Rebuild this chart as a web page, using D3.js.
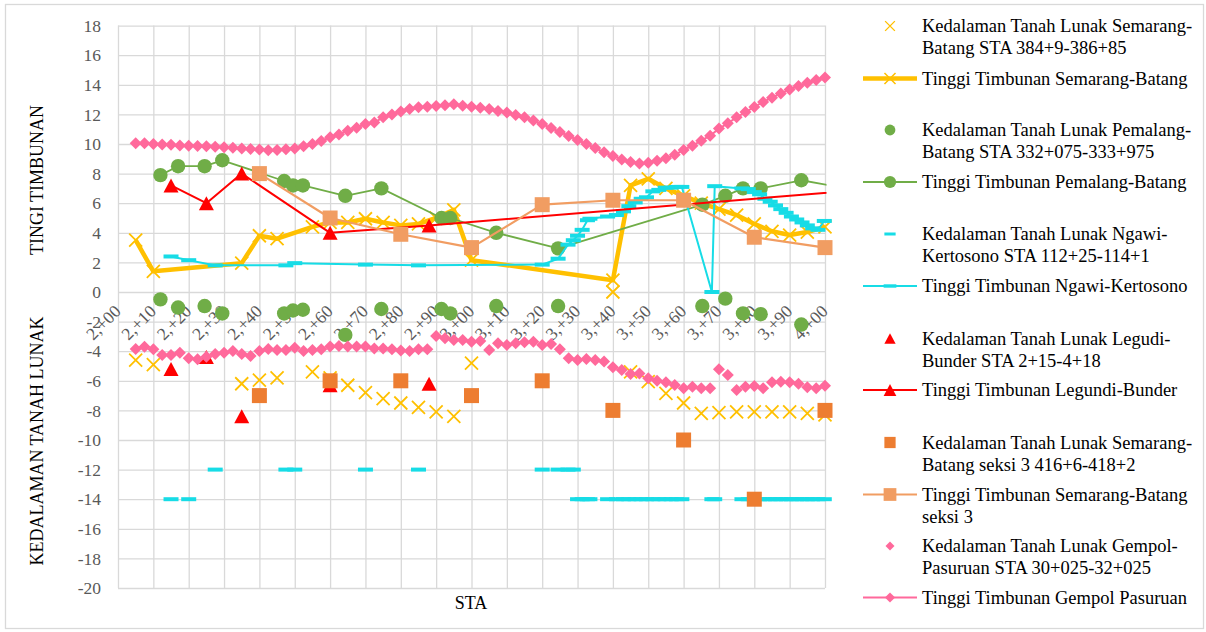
<!DOCTYPE html>
<html>
<head>
<meta charset="utf-8">
<script src="https://cdn.jsdelivr.net/npm/d3@7"></script>
<style>
  body { margin: 0; background: #fff; }
  svg { display: block; }
  text { font-family: "Liberation Serif", "Times New Roman", serif; }
</style>
</head>
<body>
<svg id="chart" width="1206" height="632" font-family="Liberation Serif, serif"></svg>
<script>
// ---- axis ticks ----
const tickStations = [200, 210, 220, 230, 240, 250, 260, 270, 280, 290, 300, 310, 320, 330, 340, 350, 360, 370, 380, 390, 400];
const tickLabels = ["2,+00", "2,+10", "2,+20", "2,+30", "2,+40", "2,+50", "2,+60", "2,+70", "2,+80", "2,+90",
                    "3,+00", "3,+10", "3,+20", "3,+30", "3,+40", "3,+50", "3,+60", "3,+70", "3,+80", "3,+90", "4,+00"];
const yTicks = [-20, -18, -16, -14, -12, -10, -8, -6, -4, -2, 0, 2, 4, 6, 8, 10, 12, 14, 16, 18];

// ---- Semarang-Batang STA 384+9-386+85 ----
const semarangSta = [205, 210, 235, 240, 245, 255, 260, 265, 270, 275, 280, 285, 290, 295, 300,
                     340, 345, 350, 355, 360, 365, 370, 375, 380, 385, 390, 395, 400];
const semarangTinggi = [3.5, 1.4, 1.95, 3.8, 3.6, 4.4, 4.7, 4.7, 4.95, 4.7, 4.5, 4.6, 5.0, 5.55, 2.15,
                        0.8, 7.2, 7.65, 7.0, 6.5, 6.0, 5.6, 5.2, 4.6, 4.1, 3.85, 4.05, 4.4];
const semarangKedalaman = [-4.6, -4.9, -6.2, -5.95, -5.8, -5.4, -5.8, -6.3, -6.8, -7.2, -7.5, -7.8, -8.1, -8.4, -4.8,
                           0, -5.4, -6.05, -6.85, -7.5, -8.2, -8.15, -8.1, -8.1, -8.1, -8.1, -8.2, -8.3];

// ---- Pemalang-Batang STA 332+075-333+975 ----
const pemalangSta = [212, 217, 224.5, 229.5, 247, 249.5, 252.3, 264.3, 274.5, 291.5, 294, 307, 324.5,
                     365.3, 371.8, 376.8, 381.8, 393.3, 406];
const pemalangTinggi = [7.9, 8.5, 8.5, 8.9, 7.5, 7.2, 7.2, 6.5, 7.0, 5.0, 5.0, 4.0, 2.95,
                        5.9, 6.5, 7.0, 7.0, 7.55, 7.0];
const pemalangKedalaman = [-0.5, -1.05, -0.95, -1.45, -1.45, -1.25, -1.2, -2.9, -1.15, -1.15, -1.45, -0.95, -0.95,
                           -0.95, -0.45, -1.45, -1.5, -2.2, null];

// ---- Ngawi-Kertosono STA 112+25-114+1 ----
const ngawiSta = [215, 220, 227.5, 247.5, 250, 270, 285, 320, 324.5, 327.3,
                  328.8, 330, 331.3, 332.8, 333.5, 338.5, 341, 343, 344.5, 346.3,
                  348, 349.5, 351.3, 353, 354.8, 356.5, 358, 359.5, 368, 368.8,
                  376.5, 378.3, 380, 381.5, 383, 384.5, 386, 387.5, 389, 390.5,
                  392, 393.5, 395, 396.5, 398, 399.8];
const ngawiTinggi = [2.4, 2.15, 1.8, 1.8, 1.95, 1.85, 1.8, 1.85, 2.25, 3.2,
                     3.5, 3.8, 4.2, 4.85, 4.95, 5.1, 5.2, 5.45, 5.8, 6.05,
                     6.3, 6.4, 6.8, 6.9, 7.05, 7.05, 7.1, 7.1, 0, 7.15,
                     7.0, 6.95, 6.75, 6.6, 6.3, 6.1, 5.85, 5.6, 5.35, 5.1,
                     4.9, 4.7, 4.5, 4.3, 4.2, 4.8];
const ngawiKedalaman = [-14, -14, -12, -12, -12, -12, -12, -12, -12, -12,
                        -12, -14, -14, -14, -14, -14, -14, -14, -14, -14,
                        -14, -14, -14, -14, -14, -14, -14, -14, -14, -14,
                        -14, -14, -14, -14, -14, -14, -14, -14, -14, -14,
                        -14, -14, -14, -14, -14, -14];

// ---- Legundi-Bunder STA 2+15-4+18 ----
const legundiSta = [215, 225, 235, 260, 288, 418];
const legundiTinggi = [7.2, 6.0, 8.0, 4.0, 4.5, 7.05];
const legundiKedalaman = [-5.2, -4.4, -8.4, -6.3, -6.2, null];

// ---- Semarang-Batang seksi 3 416+6-418+2 ----
const seksi3Sta = [240, 260, 280, 300, 320, 340, 360, 380, 400];
const seksi3Tinggi = [8.0, 5.0, 3.9, 3.0, 5.9, 6.2, 6.2, 3.7, 3.0];
const seksi3Kedalaman = [-7, -6, -6, -7, -6, -8, -10, -14, -8];

// ---- Gempol-Pasuruan STA 30+025-32+025 (every 2.5 m from 2+05 to 4+00) ----
const gempolSta = d3.range(205, 400.01, 2.5);
const gempolTinggi = [
  10.05, 10.05, 10.0, 9.97, 9.95, 9.9, 9.88, 9.86, 9.84, 9.82,
  9.78, 9.74, 9.7, 9.66, 9.62, 9.58, 9.6, 9.65, 9.7, 9.84,
  10.0, 10.2, 10.45, 10.65, 10.9, 11.1, 11.35, 11.45, 11.8, 12.0,
  12.2, 12.36, 12.48, 12.52, 12.57, 12.61, 12.68, 12.59, 12.52, 12.45,
  12.36, 12.23, 12.12, 11.96, 11.8, 11.58, 11.35, 11.08, 10.81, 10.54,
  10.27, 10.0, 9.73, 9.44, 9.19, 8.96, 8.78, 8.69, 8.74, 8.87,
  9.03, 9.28, 9.59, 9.89, 10.22, 10.56, 11.04, 11.4, 11.8, 12.16,
  12.5, 12.84, 13.13, 13.42, 13.69, 13.92, 14.14, 14.32, 14.5];
const gempolKedalaman = [
  -3.85, -3.7, -3.87, -4.26, -4.26, -4.1, -4.48, -4.55, -4.37, -4.19,
  -4.1, -3.99, -4.19, -4.32, -3.99, -3.85, -3.92, -3.92, -3.76, -3.99,
  -3.92, -3.87, -3.69, -3.65, -3.69, -3.69, -3.69, -3.81, -3.81, -3.87,
  -3.96, -3.99, -3.87, -3.87, -2.97, -3.13, -3.24, -3.24, -3.36, -3.31,
  -3.92, -3.47, -3.58, -3.47, -3.4, -3.36, -3.58, -3.51, -3.87, -4.48,
  -4.59, -4.53, -4.59, -4.7, -5.09, -5.27, -5.54, -5.5, -5.83, -6.0,
  -6.1, -6.28, -6.5, -6.4, -6.5, -6.5, -5.22, -5.6, -6.62, -6.4,
  -6.35, -6.5, -6.1, -6.06, -6.1, -6.2, -6.44, -6.5, -6.33];

// ---- layout ----
const FONT = "Liberation Serif, Times New Roman, serif";
const plot = { left: 118, right: 825, top: 25.6, bottom: 588 };
const svg = d3.select("#chart");

const x = d3.scaleLinear().domain([200, 400]).range([plot.left, plot.right]);
const y = d3.scaleLinear().domain([-20, 18]).range([plot.bottom, plot.top]);

// outer chart frame
svg.append("rect")
  .attr("x", 5.5).attr("y", 4.5).attr("width", 1198).attr("height", 624)
  .attr("fill", "#fff").attr("stroke", "#D9D9D9").attr("stroke-width", 1.3);

// horizontal gridlines + value labels
const gY = svg.append("g").attr("transform", `translate(${plot.left},0)`)
  .call(d3.axisLeft(y).tickValues(yTicks).tickSize(-(plot.right - plot.left)).tickPadding(17).tickFormat(d => d));
gY.attr("font-family", FONT);
gY.select(".domain").remove();
gY.selectAll("line").attr("stroke", "#D9D9D9").attr("stroke-width", 1.3);
gY.selectAll("text").attr("font-family", FONT).attr("font-size", 17.5).attr("fill", "#595959");

// vertical gridlines
const gX = svg.append("g").attr("transform", `translate(0,${plot.top})`)
  .call(d3.axisBottom(x).tickValues(tickStations).tickSize(plot.bottom - plot.top).tickFormat(""));
gX.select(".domain").remove();
gX.selectAll("line").attr("stroke", "#D9D9D9").attr("stroke-width", 1.3);

// station labels along the zero line, rotated
const gL = svg.append("g").attr("transform", `translate(0,${y(0)})`)
  .call(d3.axisBottom(x).tickValues(tickStations).tickSize(0).tickFormat((d, i) => tickLabels[i]));
gL.attr("font-family", FONT);
gL.select(".domain").remove();
gL.selectAll("text")
  .attr("font-family", FONT).attr("font-size", 17.5).attr("fill", "#595959")
  .attr("text-anchor", "end")
  .attr("y", 0).attr("dy", "0.35em")
  .attr("transform", "translate(-1,16) rotate(-45)");

// axis titles
svg.append("text").attr("transform", "translate(37,180) rotate(-90)")
  .attr("text-anchor", "middle").attr("dy", "0.35em").attr("font-size", 18).attr("fill", "#000")
  .text("TINGI TIMBUNAN");
svg.append("text").attr("transform", "translate(37,441) rotate(-90)")
  .attr("text-anchor", "middle").attr("dy", "0.35em").attr("font-size", 18).attr("fill", "#000")
  .text("KEDALAMAN TANAH LUNAK");
svg.append("text").attr("x", 471).attr("y", 603)
  .attr("text-anchor", "middle").attr("dy", "0.35em").attr("font-size", 18).attr("fill", "#000")
  .text("STA");

// ---- marker shapes ----
const markerPath = {
  x: "M-6.5,-6.5L6.5,6.5M-6.5,6.5L6.5,-6.5",
  circle: "M7.2,0A7.2,7.2 0 1,1 -7.2,0A7.2,7.2 0 1,1 7.2,0Z",
  dash: "M-7.5,-2H7.5V2H-7.5Z",
  triangle: "M0,-7L7.5,7H-7.5Z",
  square: "M-7.5,-7.5H7.5V7.5H-7.5Z",
  diamond: "M0,-6L6,0L0,6L-6,0Z"
};
function styleMarker(sel, shape, color) {
  sel.attr("d", markerPath[shape]);
  if (shape === "x") sel.attr("fill", "none").attr("stroke", color).attr("stroke-width", 1.8);
  else sel.attr("fill", color).attr("stroke", "none");
}

const C = {
  yellow: "#FFC000", green: "#70AD47", cyan: "#17DCE6", red: "#FF0000",
  orange: "#ED7D31", orangeLight: "#F19D62", pink: "#FF699B"
};

// series drawn in legend order
const series = [
  { sta: semarangSta, val: semarangKedalaman, color: C.yellow, shape: "x", line: 0 },
  { sta: semarangSta, val: semarangTinggi, color: C.yellow, shape: "x", line: 4.5 },
  { sta: pemalangSta, val: pemalangKedalaman, color: C.green, shape: "circle", line: 0 },
  { sta: pemalangSta, val: pemalangTinggi, color: C.green, shape: "circle", line: 1.8 },
  { sta: ngawiSta, val: ngawiKedalaman, color: C.cyan, shape: "dash", line: 0 },
  { sta: ngawiSta, val: ngawiTinggi, color: C.cyan, shape: "dash", line: 2 },
  { sta: legundiSta, val: legundiKedalaman, color: C.red, shape: "triangle", line: 0 },
  { sta: legundiSta, val: legundiTinggi, color: C.red, shape: "triangle", line: 2 },
  { sta: seksi3Sta, val: seksi3Kedalaman, color: C.orange, shape: "square", line: 0 },
  { sta: seksi3Sta, val: seksi3Tinggi, color: C.orangeLight, shape: "square", line: 2.2 },
  { sta: gempolSta, val: gempolKedalaman, color: C.pink, shape: "diamond", line: 0 },
  { sta: gempolSta, val: gempolTinggi, color: C.pink, shape: "diamond", line: 2 }
];

svg.append("clipPath").attr("id", "plotClip").append("rect")
  .attr("x", plot.left).attr("y", 0).attr("width", plot.right - plot.left + 1.5).attr("height", 632);

const lineGen = d3.line().defined(d => d.v != null).x(d => x(d.s)).y(d => y(d.v));

series.forEach(s => {
  const pts = s.sta.map((st, i) => ({ s: st, v: s.val[i] }));
  const g = svg.append("g");
  if (s.line) {
    g.append("path").datum(pts).attr("clip-path", "url(#plotClip)")
      .attr("fill", "none").attr("stroke", s.color).attr("stroke-width", s.line)
      .attr("stroke-linejoin", "round").attr("d", lineGen);
  }
  const vis = pts.filter(d => d.v != null && d.s >= 200 && d.s <= 400);
  g.selectAll("path.m").data(vis).join("path").attr("class", "m")
    .attr("transform", d => `translate(${x(d.s)},${y(d.v)})`)
    .call(sel => styleMarker(sel, s.shape, s.color));
});

// ---- legend ----
const legendItems = [
  { s: 0, lines: ["Kedalaman Tanah Lunak Semarang-", "Batang STA 384+9-386+85"], y: 26 },
  { s: 1, lines: ["Tinggi Timbunan Semarang-Batang"], y: 78.5 },
  { s: 2, lines: ["Kedalaman Tanah Lunak Pemalang-", "Batang STA 332+075-333+975"], y: 130 },
  { s: 3, lines: ["Tinggi Timbunan Pemalang-Batang"], y: 182 },
  { s: 4, lines: ["Kedalaman Tanah Lunak Ngawi-", "Kertosono STA 112+25-114+1"], y: 234 },
  { s: 5, lines: ["Tinggi Timbunan Ngawi-Kertosono"], y: 286 },
  { s: 6, lines: ["Kedalaman Tanah Lunak Legudi-", "Bunder STA 2+15-4+18"], y: 338.5 },
  { s: 7, lines: ["Tinggi Timbunan Legundi-Bunder"], y: 390 },
  { s: 8, lines: ["Kedalaman Tanah Lunak Semarang-", "Batang seksi 3 416+6-418+2"], y: 442.5 },
  { s: 9, lines: ["Tinggi Timbunan Semarang-Batang", "seksi 3"], y: 494.5 },
  { s: 10, lines: ["Kedalaman Tanah Lunak Gempol-", "Pasuruan STA 30+025-32+025"], y: 546 },
  { s: 11, lines: ["Tinggi Timbunan Gempol Pasuruan"], y: 597.5 }
];
const legend = svg.append("g").attr("font-family", FONT);
legendItems.forEach(it => {
  const s = series[it.s];
  const g = legend.append("g").attr("transform", `translate(0,${it.y})`);
  if (s.line) {
    g.append("line").attr("x1", 863).attr("x2", 917).attr("y1", 0).attr("y2", 0)
      .attr("stroke", s.color).attr("stroke-width", s.line);
  }
  const m = g.append("path").attr("transform", `translate(890,0) scale(${s.line ? 0.85 : 0.75})`);
  styleMarker(m, s.shape, s.color);
  it.lines.forEach((t, k) => {
    g.append("text").attr("x", 922).attr("y", k * 21.7).attr("dy", "0.35em")
      .attr("font-family", FONT).attr("font-size", 18.5).attr("fill", "#000").text(t);
  });
});
</script>
</body>
</html>
